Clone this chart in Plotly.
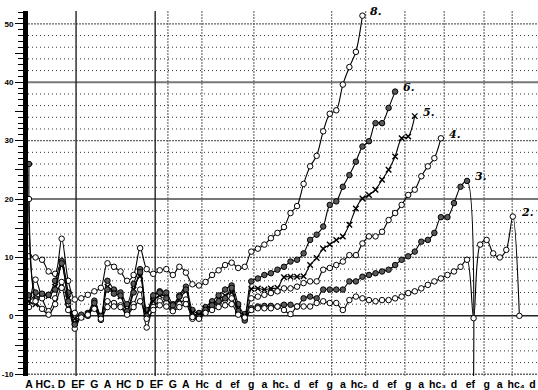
import plotly.graph_objects as go

# ---------------- data ----------------
note_pos = [0, 2.5, 5, 7.5, 10, 12, 14.5, 17, 19.5, 22, 24, 26.5, 29, 31.5, 34, 36,
            38.5, 41, 43.5, 46, 48, 50.5, 53, 55.5, 58, 60, 62.5, 65, 67.5, 70, 72, 74.5, 77]
note_labels = ["A", "HC₁", "D", "EF", "G", "A", "HC", "D", "EF", "G", "A", "Hc", "d", "ef", "g", "a",
               "hc₁", "d", "ef", "g", "a", "hc₂", "d", "ef", "g", "a", "hc₃", "d", "ef", "g", "a", "hc₄", "d"]

s8 = [10.2, 10.0, 9.6, 7.6, 7.2, 13.2, 6.0, 2.8, 3.0, 3.6, 4.2, 4.8, 9.0, 8.4, 7.6, 6.0, 7.0, 11.6,
      8.0, 7.2, 7.8, 8.0, 7.0, 8.4, 7.4, 5.4, 5.2, 5.8, 7.0, 7.8, 8.7, 9.1, 8.2, 8.4,
      11.0, 11.5, 12.2, 13.3, 14.2, 15.2, 17.6, 18.8, 22.6, 25.6, 27.4, 31.6, 34.6, 35.2,
      39.6, 42.6, 45.2, 51.4]
s6 = [3.5, 3.0, 3.6, 3.6, 6.0, 9.4, 4.0, -1.4, 0.0, 0.5, 2.6, -0.2, 6.0, 4.5, 4.0, 2.0, 5.5, 8.0,
      1.0, 3.0, 4.2, 4.0, 2.0, 3.5, 5.0, 1.0, 0.5, 1.5, 2.5, 3.5, 4.5, 5.2, 2.0, 0.3,
      5.9, 6.4, 7.0, 7.3, 7.9, 8.4, 9.3, 9.6, 10.7, 13.0, 13.9, 15.3, 19.0, 19.6, 22.1, 24.1,
      26.4, 29.0, 29.9, 33.0, 33.0, 35.6, 38.4]
s5 = [2.5, 2.0, 3.6, 3.4, 5.0, 8.6, 3.0, -0.5, -0.2, 0.3, 2.0, -0.5, 5.0, 4.0, 3.3, 1.0, 4.5, 6.8,
      0.5, 2.5, 3.5, 3.2, 1.5, 2.8, 4.2, 0.5, 0.2, 1.2, 2.0, 2.8, 3.5, 4.0, 1.2, 0.0,
      4.6, 4.7, 4.5, 4.7, 4.8, 6.6, 6.7, 6.7, 6.8, 8.7, 9.9, 11.5, 12.2, 13.0, 13.6, 15.6,
      18.4, 20.1, 20.7, 21.6, 23.3, 25.0, 27.3, 30.4, 30.7, 34.2]
s4 = [1.5, 6.2, 3.0, 0.8, 3.0, 5.8, 2.0, -2.2, 0.0, 0.3, 1.5, -0.7, 2.5, 2.2, 1.8, 0.5, 2.0, 4.5,
      -2.0, 1.5, 2.5, 2.2, 1.0, 2.0, 2.8, -0.5, -0.3, 0.8, 1.5, 2.2, 2.7, 3.0, 0.5, -0.5,
      3.0, 3.3, 3.6, 3.9, 4.2, 4.7, 4.7, 5.0, 5.6, 5.9, 5.9, 7.9, 8.2, 8.7, 9.3, 10.4, 10.4,
      12.4, 13.6, 13.6, 14.4, 16.4, 17.6, 19.0, 20.7, 21.6, 23.9, 25.6, 27.0, 30.4]
s3 = [26.0, 4.0, 3.8, 3.6, 4.5, 9.0, 2.5, -1.5, 0.2, 0.0, 2.2, 0.0, 4.5, 3.8, 3.5, 0.8, 4.0, 7.5,
      0.0, 3.5, 4.0, 3.0, 1.8, 3.3, 4.5, 0.0, -0.2, 1.0, 1.8, 2.5, 3.0, 4.8, 0.8, -0.8,
      1.3, 1.6, 1.7, 1.7, 1.6, 1.9, 1.9, 1.6, 3.0, 3.3, 3.0, 4.5, 4.5, 4.5, 4.5, 5.9, 5.9,
      6.7, 7.0, 7.3, 7.6, 7.9, 8.7, 9.6, 10.2, 11.0, 12.7, 13.0, 14.2, 16.9, 16.9, 19.3,
      22.1, 23.1, -11.0]
s2 = [20.0, 2.5, 1.2, 0.2, 2.0, 4.8, 1.0, 0.5, -0.3, 0.2, 1.2, -0.5, 1.5, 1.6, 1.5, 0.2, 1.5, 2.5,
      -0.5, 1.0, 1.8, 1.6, 0.8, 1.5, 2.0, -0.2, -0.5, 0.5, 1.0, 1.5, 1.8, 2.0, 0.2, -0.3,
      1.0, 1.3, 1.3, 1.3, 1.6, 1.0, 0.3, 1.6, 1.6, 1.6, 2.2, 2.5, 2.2, 2.2, 1.0, 2.7, 3.3,
      3.0, 2.7, 2.5, 2.7, 2.7, 3.0, 3.3, 3.9, 4.2, 4.7, 5.3, 5.9, 6.4, 7.0, 7.6, 8.4, 9.6,
      -0.4, 12.2, 13.0, 10.7, 10.0, 11.3, 17.0, 0.0]

series = [
    ("8.", s8, "open", len(s8) - 1),
    ("6.", s6, "filled", len(s6) - 1),
    ("5.", s5, "cross", len(s5) - 1),
    ("4.", s4, "open", len(s4) - 1),
    ("3.", s3, "filled", len(s3) - 2),
    ("2.", s2, "open", 74),
]

# graph-paper lines (positions in axis units)
v_solid = [7.2, 19.3]
v_dotted = [21.25, 26.45, 34.4, 46.3, 51.5, 57.5, 63.5, 69.6, 73.9]

fig = go.Figure()

marker_styles = {
    "open": dict(symbol="circle", size=5.5, color="white", line=dict(color="black", width=1)),
    "filled": dict(symbol="circle", size=5.5, color="#5a5a5a", line=dict(color="black", width=1)),
    "cross": dict(symbol="x-thin", size=5.5, color="black", line=dict(color="black", width=1.4)),
}

for name, vals, mk, lab_i in series:
    fig.add_trace(go.Scatter(
        x=list(range(len(vals))), y=vals, mode="lines+markers", name=name,
        line=dict(color="black", width=1.1, shape="spline", smoothing=0.9),
        marker=marker_styles[mk], cliponaxis=True, showlegend=False,
    ))
    fig.add_annotation(x=lab_i, y=vals[lab_i], text="<b><i>" + name + "</i></b>",
                       showarrow=False, xanchor="left", yanchor="middle", xshift=6, yshift=4,
                       font=dict(family="DejaVu Serif", size=11, color="black"))

shapes = []
for v in range(-10, 51, 2):
    if v % 10 == 0:
        continue
    shapes.append(dict(type="line", xref="paper", x0=0, x1=1, yref="y", y0=v, y1=v,
                       line=dict(color="#333", width=1, dash="1px,3px"), layer="below"))
for v in [-10, 10, 30, 50]:
    shapes.append(dict(type="line", xref="paper", x0=0, x1=1, yref="y", y0=v, y1=v,
                       line=dict(color="#666", width=1.3, dash="2px,1px"), layer="below"))
for v in [20, 40]:
    shapes.append(dict(type="line", xref="paper", x0=0, x1=1, yref="y", y0=v, y1=v,
                       line=dict(color="#777", width=2), layer="below"))
shapes.append(dict(type="line", xref="paper", x0=0, x1=1, yref="y", y0=0, y1=0,
                   line=dict(color="#222", width=1.5), layer="below"))
for xv in v_solid:
    shapes.append(dict(type="line", xref="x", x0=xv, x1=xv, yref="paper", y0=0, y1=1,
                       line=dict(color="#222", width=1.4), layer="below"))
for xv in v_dotted:
    shapes.append(dict(type="line", xref="x", x0=xv, x1=xv, yref="paper", y0=0, y1=1,
                       line=dict(color="#555", width=1, dash="2px,1px"), layer="below"))

ytick_vals = list(range(-10, 51, 5))
ytick_text = [str(v) if v % 10 == 0 else "" for v in ytick_vals]

fig.update_layout(
    width=538, height=390,
    margin=dict(l=28, r=0, t=11, b=14, autoexpand=False),
    paper_bgcolor="white", plot_bgcolor="white",
    shapes=shapes,
    xaxis=dict(range=[-0.15, 77.85], tickmode="array", tickvals=note_pos, ticktext=note_labels,
               ticks="", showgrid=False, zeroline=False, showline=False,
               tickfont=dict(family="Liberation Sans", size=10.5, color="black", weight="bold")),
    yaxis=dict(range=[-10.3, 52.2], tickmode="array", tickvals=ytick_vals, ticktext=ytick_text,
               ticks="outside", ticklen=8, tickwidth=1, tickcolor="black",
               showgrid=False, zeroline=False, showline=True, linewidth=5, linecolor="black",
               tickfont=dict(family="Liberation Sans", size=8, color="black", weight="bold"),
               minor=dict(dtick=1, ticklen=5, tickwidth=1, tickcolor="black", ticks="outside", showgrid=False)),
)

fig.write_html("out.html", config={"displayModeBar": False},
               post_script="document.body.style.margin='0';document.body.style.overflow='hidden';")
